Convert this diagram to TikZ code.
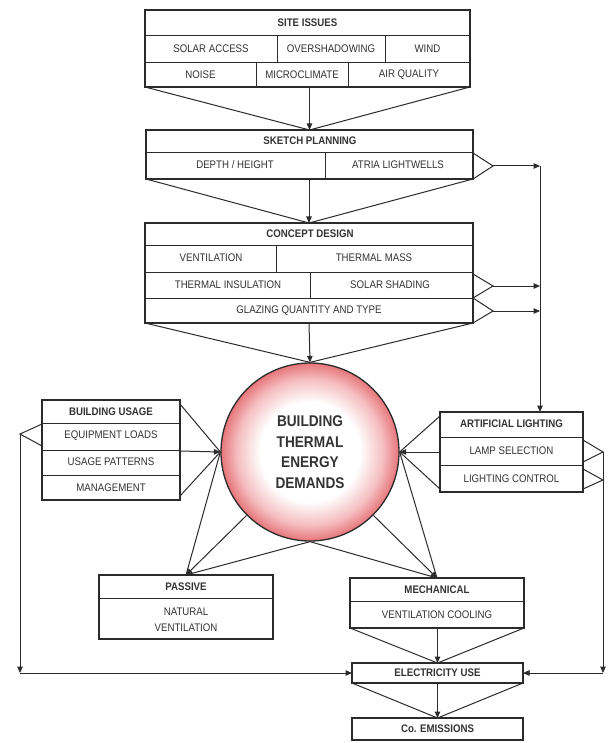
\documentclass[tikz,border=0pt]{standalone}
\usepackage{fontspec}
\setmainfont{Liberation Sans}[FakeStretch=0.88]
\usetikzlibrary{arrows.meta}
\definecolor{ink}{HTML}{2B2B2B}
\definecolor{txt}{HTML}{333333}
\definecolor{pinkmid}{HTML}{F5BEC0}
\definecolor{pinkedge}{HTML}{E6757A}
\pgfdeclareradialshading{ballpink}{\pgfpoint{0bp}{0bp}}{color(0bp)=(white); color(14bp)=(white); color(20.5bp)=(pinkmid); color(25bp)=(pinkedge); color(50bp)=(pinkedge)}
\begin{document}
\begin{tikzpicture}[x=1pt,y=-1pt,
  box/.style={draw=ink, fill=white, line width=1.8pt, inner sep=0pt, outer sep=0pt, anchor=north west, rectangle},
  div/.style={draw=ink, line width=0.9pt},
  conn/.style={draw=ink, line width=1pt},
  arr/.style={conn, -{Triangle[length=6.5pt,width=5.5pt]}},
  cell/.style={font=\fontsize{11}{12}\selectfont, text=txt, inner sep=0pt},
  ttl/.style={font=\fontsize{11}{12}\selectfont\bfseries, text=txt, inner sep=0pt}]
\useasboundingbox[fill=white] (0,0) rectangle (607,743);

% ---------- boxes ----------
\node[box, minimum width=325pt, minimum height=77pt] (site) at (145,10) {};
\node[box, minimum width=327pt, minimum height=49pt] (sketch) at (146,130) {};
\node[box, minimum width=328pt, minimum height=100pt] (concept) at (145,223) {};
\node[box, minimum width=138pt, minimum height=100pt] (usage) at (42,400) {};
\node[box, minimum width=143pt, minimum height=80pt] (light) at (440,412) {};
\node[box, minimum width=174pt, minimum height=64pt] (passive) at (99,575) {};
\node[box, minimum width=174pt, minimum height=50pt] (mech) at (350,578) {};
\node[box, minimum width=171pt, minimum height=20pt] (elec) at (352,663) {};
\node[box, minimum width=171pt, minimum height=22pt] (co) at (352,718) {};

% ---------- dividers ----------
\draw[div] (145,35) -- (470,35) (145,62) -- (470,62)
  (277,35) -- (277,62) (385,35) -- (385,62)
  (256,62) -- (256,87) (348,62) -- (348,87);
\draw[div] (146,152) -- (473,152) (325,152) -- (325,179);
\draw[div] (145,245) -- (473,245) (145,272) -- (473,272) (145,298) -- (473,298)
  (276,245) -- (276,272) (310,272) -- (310,298);
\draw[div] (42,423) -- (180,423) (42,450) -- (180,450) (42,475) -- (180,475);
\draw[div] (440,437) -- (583,437) (440,465) -- (583,465);
\draw[div] (99,598) -- (273,598);
\draw[div] (350,601) -- (524,601);
\draw[ink, line width=1.8pt] (site.north west) rectangle (site.south east)
  (sketch.north west) rectangle (sketch.south east)
  (concept.north west) rectangle (concept.south east)
  (usage.north west) rectangle (usage.south east)
  (light.north west) rectangle (light.south east)
  (passive.north west) rectangle (passive.south east)
  (mech.north west) rectangle (mech.south east);

% ---------- texts ----------
\node[ttl] (t1) at (307.5,22.5) {SITE ISSUES};
\node[cell] (t2) at (211,48.5) {SOLAR ACCESS};
\node[cell] (t3) at (331,48.5) {OVERSHADOWING};
\node[cell] (t4) at (427.5,48.5) {WIND};
\node[cell] (t5) at (200.5,74.5) {NOISE};
\node[cell] (t6) at (302,74.5) {MICROCLIMATE};
\node[cell] (t7) at (409,74.5) {AIR QUALITY};

\node[ttl] (t8) at (310,141) {SKETCH PLANNING};
\node[cell] (t9) at (235,165) {DEPTH / HEIGHT};
\node[cell] (t10) at (398,165) {ATRIA LIGHTWELLS};

\node[ttl] (t11) at (310,234) {CONCEPT DESIGN};
\node[cell] (t12) at (211,258) {VENTILATION};
\node[cell] (t13) at (374,258) {THERMAL MASS};
\node[cell] (t14) at (228,285) {THERMAL INSULATION};
\node[cell] (t15) at (390,285) {SOLAR SHADING};
\node[cell] (t16) at (309,311) {GLAZING QUANTITY AND TYPE};

\node[ttl] (t17) at (111,412) {BUILDING USAGE};
\node[cell] (t18) at (111,436) {EQUIPMENT LOADS};
\node[cell] (t19) at (111,462) {USAGE PATTERNS};
\node[cell] (t20) at (111,487.5) {MANAGEMENT};

\node[ttl] (t21) at (511.5,424) {ARTIFICIAL LIGHTING};
\node[cell] (t22) at (511.5,451) {LAMP SELECTION};
\node[cell] (t23) at (511.5,478.5) {LIGHTING CONTROL};

\node[ttl] (t24) at (186,587) {PASSIVE};
\node[cell] (t25) at (186,612) {NATURAL};
\node[cell] (t26) at (186,628) {VENTILATION};

\node[ttl] (t27) at (437,590) {MECHANICAL};
\node[cell] (t28) at (437,614.5) {VENTILATION COOLING};

\node[ttl] (t29) at (437.5,673) {ELECTRICITY USE};
\node[ttl] (t30) at (437.5,729) {Co. EMISSIONS};

% ---------- central circle ----------
\node[circle, draw=ink, line width=1.3pt, minimum size=178pt, inner sep=0pt,
  shade, shading=ballpink, align=center, text=txt,
  font=\fontsize{15.5}{20.5}\selectfont\bfseries] (bted) at (310,452)
  {BUILDING\\THERMAL\\ENERGY\\DEMANDS};

% ---------- fan-in connectors ----------
\draw[conn] (site.south west) -- (sketch.north) (site.south east) -- (sketch.north);
\draw[arr] (sketch.north |- site.south) -- (sketch.north);
\draw[conn] (sketch.south west) -- (concept.north) (sketch.south east) -- (concept.north);
\draw[arr] (concept.north |- sketch.south) -- (concept.north);
\draw[conn] (concept.south west) -- (bted.north) (concept.south east) -- (bted.north);
\draw[arr] (concept.south) -- (bted.north);

\draw[conn] (usage.north east) ++(0,4) -- (bted.west);
\draw[conn] (usage.south east) ++(0,-4) -- (bted.west);
\coordinate (uMid) at (180,451);
\draw[arr] (uMid) -- (bted.west);

\draw[conn] (light.north west) ++(0,4) -- (bted.east);
\draw[conn] (light.south west) ++(0,-3) -- (bted.east);
\coordinate (lMid) at (440,452);
\draw[arr] (lMid) -- (bted.east);

\draw[conn] (bted.west) -- (passive.north) (bted.south) -- (passive.north);
\draw[arr] (bted.south west) -- (passive.north);
\draw[conn] (bted.east) -- (mech.north) (bted.south) -- (mech.north);
\draw[arr] (bted.south east) -- (mech.north);

\draw[conn] (mech.south west) -- (elec.north) (mech.south east) -- (elec.north);
\draw[arr] (elec.north |- mech.south) -- (elec.north);
\draw[conn] (elec.south west) -- (co.north) (elec.south east) -- (co.north);
\draw[arr] (elec.south) -- (co.north);

% ---------- right-hand wedges and collector line ----------
\coordinate (skA) at (473,153); \coordinate (skB) at (473,179); \coordinate (skW) at (493,166);
\coordinate (cdA) at (473,274); \coordinate (cdB) at (473,298); \coordinate (cdW) at (493,286);
\coordinate (cdC) at (473,298); \coordinate (cdD) at (473,323); \coordinate (cdV) at (493,311);
\coordinate (vTop) at (540,166); \coordinate (v1) at (540,286); \coordinate (v2) at (540,311);
\draw[conn] (skA) -- (skW) -- (skB);
\draw[conn] (cdA) -- (cdW) -- (cdB);
\draw[conn] (cdC) -- (cdV) -- (cdD);
\draw[arr] (skW) -- (vTop);
\draw[arr] (cdW) -- (v1);
\draw[arr] (cdV) -- (v2);
\draw[arr] (vTop) -- (vTop |- light.north);

% ---------- building usage wedge to electricity ----------
\coordinate (uA) at (42,424); \coordinate (uB) at (42,446); \coordinate (uW) at (20,434);
\draw[conn] (uA) -- (uW) -- (uB);
\coordinate (cL) at (uW |- elec.west);
\draw[arr] (uW) -- (cL);
\draw[arr] (cL) -- (elec.west);

% ---------- artificial lighting wedges to electricity ----------
\coordinate (lA) at (583,440); \coordinate (lB) at (583,462); \coordinate (lW) at (603,452);
\coordinate (lC) at (583,469); \coordinate (lD) at (583,489); \coordinate (lV) at (603,480);
\draw[conn] (lA) -- (lW) -- (lB);
\draw[conn] (lC) -- (lV) -- (lD);
\coordinate (cR) at (lW |- elec.east);
\draw[arr] (lW) -- (cR);
\draw[arr] (cR) -- (elec.east);
\end{tikzpicture}
\end{document}
